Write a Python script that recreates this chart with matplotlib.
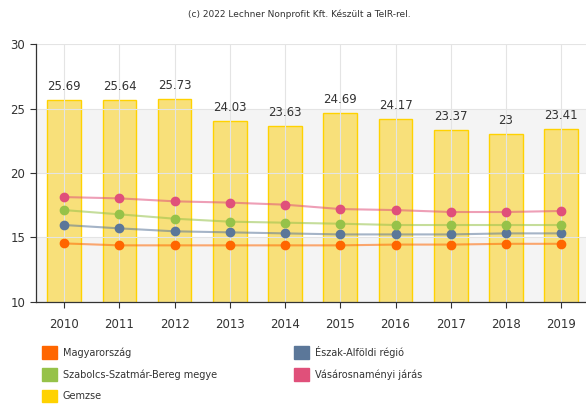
import matplotlib.pyplot as plt
from matplotlib.patches import Patch

years = ["2010", "2011", "2012", "2013", "2014", "2015", "2016", "2017", "2018", "2019"]
gemzse = [25.69, 25.64, 25.73, 24.03, 23.63, 24.69, 24.17, 23.37, 23, 23.41]
magyarorszag = [14.53, 14.38, 14.38, 14.38, 14.38, 14.38, 14.44, 14.44, 14.5, 14.5]
eszak_alfold = [15.96, 15.7, 15.47, 15.39, 15.31, 15.23, 15.23, 15.23, 15.31, 15.31]
szabolcs = [17.12, 16.79, 16.45, 16.22, 16.14, 16.06, 15.96, 15.96, 15.96, 15.96]
vasarosnameny = [18.13, 18.03, 17.8, 17.7, 17.54, 17.2, 17.12, 16.97, 16.97, 17.05]

txt = "#333333"
x = list(range(len(years)))

fig = plt.figure(figsize=(5.86, 4.05), dpi=100)
ax = fig.add_axes([0.0606, 0.255, 0.9394, 0.6356])

# background bands
ax.axhspan(10, 15, color="#f4f4f4", zorder=0.5, lw=0)
ax.axhspan(20, 25, color="#f4f4f4", zorder=0.5, lw=0)

bars = ax.bar(x, gemzse, width=0.61, color="#f8e07a", edgecolor="#ffd200", linewidth=1, zorder=1)
for xi, v in zip(x, gemzse):
    ax.annotate(f"{v:g}", (xi, v), xytext=(0, 5), textcoords="offset points",
                ha="center", va="bottom", fontsize=8.5, color=txt)

series = [
    (magyarorszag, "#ff6600"),
    (eszak_alfold, "#5b7799"),
    (szabolcs, "#96c249"),
    (vasarosnameny, "#e0507a"),
]
for vals, c in series:
    ax.plot(x, vals, color=c, lw=1.5, alpha=0.55, zorder=3)
    ax.plot(x, vals, "o", color=c, ms=6, zorder=4)

ax.set_xlim(-0.52, 9.45)
ax.set_ylim(10, 30)
ax.set_yticks([10, 15, 20, 25, 30])
ax.set_xticks(x)
ax.set_xticklabels(years)
ax.tick_params(axis="both", labelsize=8.5, colors=txt, length=4, width=0.8)
ax.tick_params(axis="x", pad=8)
ax.grid(True, color="#e4e4e4", lw=0.8)
ax.set_axisbelow("line")
for s in ["top", "right"]:
    ax.spines[s].set_visible(False)
for s in ["left", "bottom"]:
    ax.spines[s].set_color("#333333")
    ax.spines[s].set_linewidth(0.9)

fig.text(0.51, 0.965, "(c) 2022 Lechner Nonprofit Kft. Készült a TeIR-rel.",
         ha="center", va="center", fontsize=6.5, color=txt)

handles = [
    Patch(color="#ff6600"),
    Patch(color="#96c249"),
    Patch(color="#ffd200"),
    Patch(color="#5b7799"),
    Patch(color="#e0507a"),
]
labels = ["Magyarország", "Szabolcs-Szatmár-Bereg megye", "Gemzse",
          "Észak-Alföldi régió", "Vásárosnaményi járás"]
fig.legend(handles, labels, ncol=2, loc="upper left", bbox_to_anchor=(0.071, 0.146),
           frameon=False, fontsize=7, handlelength=1.6, handleheight=1.6,
           handletextpad=0.55, columnspacing=7.95, labelspacing=0.95, labelcolor=txt,
           borderaxespad=0, borderpad=0)

fig.savefig("out.png", dpi=100)
